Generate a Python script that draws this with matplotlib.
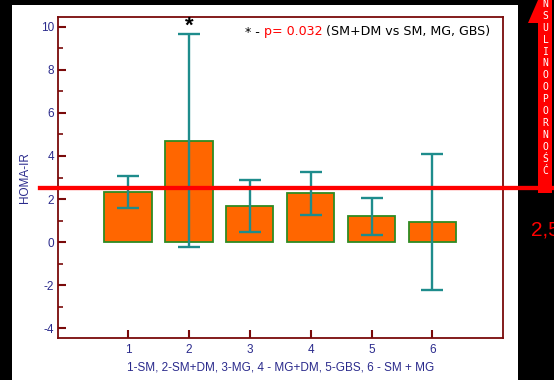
import matplotlib.pyplot as plt
import matplotlib.patches as patches
from matplotlib.ticker import MultipleLocator

# data
groups = [1, 2, 3, 4, 5, 6]
homa_mean = [2.34, 4.71, 1.67, 2.26, 1.19, 0.94]
homa_err = [0.74, 4.94, 1.22, 0.99, 0.87, 3.17]
cutoff = 2.5
y_ticks = [-4, -2, 0, 2, 4, 6, 8, 10]
x_label = "1-SM, 2-SM+DM, 3-MG, 4 - MG+DM, 5-GBS, 6 - SM + MG"
arrow_word = "NSULINOOPORNOŚĆ"   # the leading "I" is off the top of the picture

W, H = 554, 380
plt.rcParams["font.family"] = ["Liberation Sans", "DejaVu Sans"]
plt.rcParams["axes.unicode_minus"] = False
fig = plt.figure(figsize=(W / 100, H / 100), dpi=100, facecolor="black")


def fx(px):
    return px / W


def fy(py):
    return (H - py) / H


# white page behind the chart
fig.patches.append(patches.Rectangle((fx(12), 0), fx(518) - fx(12), fy(5),
                                     transform=fig.transFigure, facecolor="white",
                                     edgecolor="none", zorder=-1))

ax_l, ax_r, ax_t, ax_b = 58.3, 502.5, 17, 338
ax = fig.add_axes([fx(ax_l), fy(ax_b), fx(ax_r) - fx(ax_l), fy(ax_t) - fy(ax_b)])
ax.set_facecolor("white")

frame = "#7a0a0a"
blue = "#2a2a8c"
teal = "#1e8c8c"

ax.bar(groups, homa_mean, width=0.78, color="#ff6600", edgecolor="#2e8b22",
       linewidth=1.3, zorder=2)
ax.errorbar(groups, homa_mean, yerr=homa_err, fmt="none", ecolor=teal,
            elinewidth=1.7, capsize=8, capthick=1.7, zorder=3)

ax.set_xlim(-0.143, 7.15)
ax.set_ylim(-4.45, 10.45)
ax.set_xticks(groups)
ax.set_yticks(y_ticks)
ax.yaxis.set_minor_locator(MultipleLocator(1))

for side in ["left", "bottom", "right", "top"]:
    ax.spines[side].set_color(frame)
    ax.spines[side].set_linewidth(1.3)

ax.tick_params(axis="both", which="major", direction="in", length=6, width=1.5,
               color=frame, labelcolor=blue, labelsize=8.5)
ax.tick_params(axis="y", which="major", pad=3)
ax.tick_params(axis="x", which="major", pad=4)
ax.tick_params(axis="y", which="minor", direction="in", length=3.5, width=1.2,
               color=frame)
ax.tick_params(axis="x", which="minor", bottom=False)

ax.set_ylabel("HOMA-IR", color=blue, fontsize=8.5, labelpad=7)
ax.set_xlabel(x_label, color=blue, fontsize=8.5, labelpad=4)

# significance marker
ax.text(2, 10.0, "*", ha="center", va="center", fontsize=16, fontweight="bold",
        color="black", zorder=4)

# note in three colours, each piece chained to the previous one
t1 = ax.text((245 - ax_l) / (ax_r - ax_l), (ax_b - 32) / (ax_b - ax_t), "* - ",
             transform=ax.transAxes, fontsize=9.1, color="black",
             family="DejaVu Sans", va="center")
t2 = ax.annotate("p= 0.032", xy=(1, 0), xycoords=t1, va="bottom",
                 fontsize=9.1, color="red", family="DejaVu Sans")
ax.annotate(" (SM+DM vs SM, MG, GBS)", xy=(1, 0), xycoords=t2, va="bottom",
            fontsize=9.1, color="black", family="DejaVu Sans")

# cut-off line, runs past the axes into the black margin
x0 = (39.5 - ax_l) / (ax_r - ax_l)
x1 = (W - ax_l) / (ax_r - ax_l)
ax.axhline(cutoff, xmin=x0, xmax=x1, color="red", linewidth=3.1, clip_on=False,
           zorder=5)

# red arrow at the right with the vertical word
arrow = patches.Polygon([(fx(538), fy(193)), (fx(552), fy(193)), (fx(552), 1.0),
                         (fx(538), 1.0), (fx(528), fy(23)), (fx(538), fy(23))],
                        closed=True, transform=fig.transFigure,
                        facecolor="red", edgecolor="none", zorder=1)
fig.patches.append(arrow)
for i, ch in enumerate(arrow_word):
    fig.text(fx(545.5), fy(4 + i * 11.9), ch, color="white", fontsize=7,
             family="DejaVu Sans Mono", ha="center", va="center")

fig.text(fx(531), fy(230.5), str(cutoff).replace(".", ","), color="red",
         fontsize=15, ha="left", va="center")

fig.savefig("out.png", dpi=100, facecolor="black")
